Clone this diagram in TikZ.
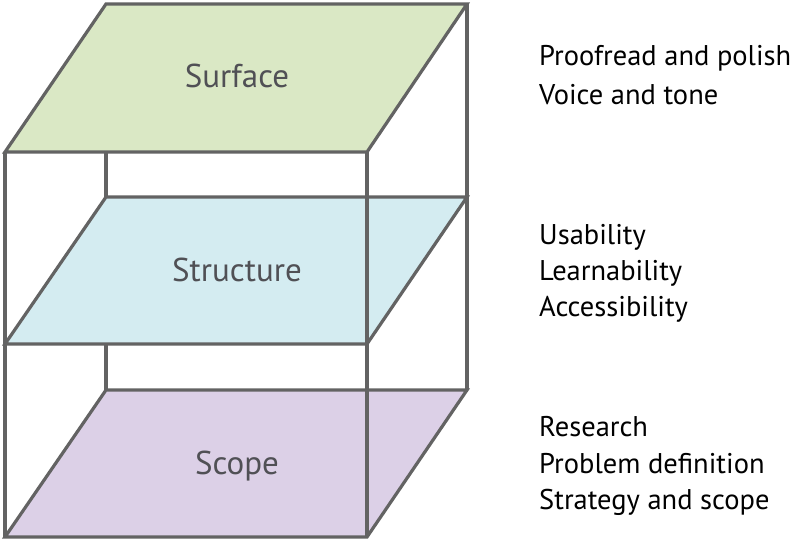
\documentclass[tikz,border=0pt]{standalone}
\usepackage{fontspec}
\setmainfont{PT Sans}
\definecolor{edge}{HTML}{636363}
\definecolor{surf}{HTML}{DAE8C5}
\definecolor{struc}{HTML}{D4ECF1}
\definecolor{scop}{HTML}{DCD0E7}
\definecolor{lab}{HTML}{505055}
\tikzset{
  plane/.style={draw=edge, line width=3.2pt, line join=miter},
  frame/.style={draw=edge, line width=3.2pt},
  planelabel/.style={anchor=base, text=lab, font=\fontsize{33}{38}\selectfont, inner sep=0pt},
  item/.style={anchor=base west, text=black, font=\fontsize{28.5}{33}\selectfont, inner sep=0pt}
}
\begin{document}
\begin{tikzpicture}[x=1pt,y=-1pt]
\useasboundingbox (0,0) rectangle (800,543);
% back verticals
\coordinate (bl) at (106,4);
\coordinate (br) at (467,4);
\coordinate (blb) at (106,390);
\coordinate (brb) at (467,390);
\draw[frame] (bl) -- (blb);
\draw[frame] (br) -- (brb);
% planes
\coordinate (s1) at (106,4); \coordinate (s2) at (467,4); \coordinate (s3) at (367,152); \coordinate (s4) at (5,152);
\coordinate (t1) at (106,197); \coordinate (t2) at (467,197); \coordinate (t3) at (367,344); \coordinate (t4) at (5,344);
\coordinate (c1) at (106,390); \coordinate (c2) at (467,390); \coordinate (c3) at (367,537); \coordinate (c4) at (5,537);
\draw[plane, fill=scop] (c1) -- (c2) -- (c3) -- (c4) -- cycle;
\draw[plane, fill=struc] (t1) -- (t2) -- (t3) -- (t4) -- cycle;
\draw[plane, fill=surf] (s1) -- (s2) -- (s3) -- (s4) -- cycle;
% front verticals
\draw[frame] (s4) -- (c4);
\draw[frame] (s3) -- (c3);
% labels
\node[planelabel] (lsurf) at (237,88) {Surface};
\node[planelabel] (lstruc) at (237,281) {Structure};
\node[planelabel] (lscope) at (237,474) {Scope};
% items
\node[item] (i1) at (539,66) {Proofread and polish};
\node[item] (i2) at (539,104) {Voice and tone};
\node[item] (i3) at (539,244) {Usability};
\node[item] (i4) at (539,280) {Learnability};
\node[item] (i5) at (539,316) {Accessibility};
\node[item] (i6) at (539,436) {Research};
\node[item] (i7) at (539,473) {Problem definition};
\node[item] (i8) at (539,509) {Strategy and scope};
\end{tikzpicture}
\end{document}
